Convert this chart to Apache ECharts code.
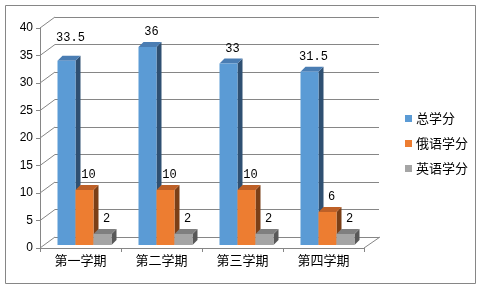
<!DOCTYPE html>
<html>
<head>
<meta charset="utf-8">
<script src="https://cdn.jsdelivr.net/npm/echarts@6/dist/echarts.min.js"></script>
<style>html,body{margin:0;padding:0;background:#fff;}#c{width:482px;height:290px;}</style>
</head>
<body>
<div id="c"></div>
<script>
var categories = ['第一学期', '第二学期', '第三学期', '第四学期'];
var seriesNames = ['总学分', '俄语学分', '英语学分'];
var totalCredits = [33.5, 36, 33, 31.5];
var russianCredits = [10, 10, 10, 6];
var englishCredits = [2, 2, 2, 2];
var yTicks = [0, 5, 10, 15, 20, 25, 30, 35, 40];

var seriesValues = [totalCredits, russianCredits, englishCredits];
var palette = [
  {front: '#5B9BD5', top: '#4A7DB3', side: '#2F5072'},
  {front: '#ED7D31', top: '#BE6027', side: '#7B3F17'},
  {front: '#A5A5A5', top: '#7F7F7F', side: '#585858'}
];
var DEPTH_X = 5, DEPTH_Y = -5, BAR_W = 18, GROUP_OFF = -23, BASE_SHIFT = -3;
var WALL_X = 15, WALL_Y = -11;
var FONT_CJK = '"Noto Sans CJK SC", sans-serif';

function barRenderer(si) {
  return function (params, api) {
    var j = api.value(0), v = api.value(1);
    var b = api.coord([j, 0]), t = api.coord([j, v]);
    var x0 = b[0] + GROUP_OFF + si * BAR_W;
    var x1 = x0 + BAR_W;
    var yb = b[1] + BASE_SHIFT, yt = t[1] + BASE_SHIFT;
    var c = palette[si];
    var lift = (si === 0 && j === 0) ? 8 : 0;
    return {
      type: 'group',
      children: [
        {type: 'polygon', shape: {points: [[x1, yt], [x1 + DEPTH_X, yt + DEPTH_Y], [x1 + DEPTH_X, yb + DEPTH_Y], [x1, yb]]}, style: {fill: c.side}},
        {type: 'polygon', shape: {points: [[x0, yt], [x1, yt], [x1 + DEPTH_X, yt + DEPTH_Y], [x0 + DEPTH_X, yt + DEPTH_Y]]}, style: {fill: c.top}},
        {type: 'rect', shape: {x: x0, y: yt, width: BAR_W, height: yb - yt}, style: {fill: c.front}},
        {type: 'text', style: {text: String(v), x: x0 + BAR_W / 2 + 4, y: yt - 15 - lift, align: 'center', verticalAlign: 'middle', fill: '#000', font: '12px "Liberation Mono", monospace'}}
      ]
    };
  };
}

function wallRenderer(params, api) {
  var v = api.value(0);
  var p = api.coord([0, v]);
  var cs = params.coordSys;
  var children = [{type: 'line', shape: {x1: cs.x, y1: p[1], x2: cs.x + WALL_X, y2: p[1] + WALL_Y}, style: {stroke: '#868686', lineWidth: 1}}];
  if (v === 0) {
    children.push({type: 'line', shape: {x1: cs.x + cs.width, y1: p[1], x2: cs.x + cs.width + WALL_X + 1, y2: p[1] + WALL_Y}, style: {stroke: '#868686', lineWidth: 1}});
  }
  return {type: 'group', children: children};
}

var series = [{
  type: 'custom', xAxisIndex: 0, yAxisIndex: 0, silent: true,
  renderItem: wallRenderer, data: yTicks.map(function (v) { return [v]; }), z: 1
}];
seriesValues.forEach(function (vals, si) {
  series.push({
    type: 'custom', name: seriesNames[si], xAxisIndex: 0, yAxisIndex: 0,
    itemStyle: {color: palette[si].front},
    renderItem: barRenderer(si),
    data: vals.map(function (v, j) { return [j, v]; }),
    z: 3 + si
  });
});

var chart = echarts.init(document.getElementById('c'), null, {renderer: 'canvas'});
chart.setOption({
  animation: false,
  backgroundColor: '#fff',
  graphic: [{type: 'rect', shape: {x: 5.5, y: 5.5, width: 470, height: 278}, style: {fill: 'none', stroke: '#868686', lineWidth: 1}, z: 0}],
  legend: {
    orient: 'vertical', left: 400, top: 107, icon: 'rect', itemWidth: 7, itemHeight: 7, itemGap: 12,
    data: seriesNames,
    textStyle: {fontSize: 13, color: '#000', fontFamily: FONT_CJK, padding: [0, 0, 0, -1]}
  },
  grid: [
    {left: 40, right: 118, top: 28, bottom: 42},
    {left: 55, right: 103, top: 17, bottom: 53}
  ],
  xAxis: [
    {type: 'category', gridIndex: 0, data: categories, boundaryGap: true,
      axisLine: {lineStyle: {color: '#868686'}},
      axisTick: {show: true, length: 4, alignWithLabel: false, lineStyle: {color: '#868686'}},
      axisLabel: {color: '#000', fontSize: 13, fontFamily: FONT_CJK, margin: 6}},
    {type: 'category', gridIndex: 1, data: categories, show: false}
  ],
  yAxis: [
    {type: 'value', gridIndex: 0, min: 0, max: 40, interval: 5,
      axisLine: {show: true, lineStyle: {color: '#868686'}},
      axisTick: {show: true, length: 4, lineStyle: {color: '#868686'}},
      splitLine: {show: false},
      axisLabel: {color: '#000', fontSize: 12, fontFamily: '"Liberation Sans", sans-serif', margin: 7}},
    {type: 'value', gridIndex: 1, min: 0, max: 40, interval: 5,
      axisLine: {show: false}, axisTick: {show: false}, axisLabel: {show: false},
      splitLine: {show: true, lineStyle: {color: '#868686', width: 1}}}
  ],
  series: series
});
</script>
</body>
</html>
